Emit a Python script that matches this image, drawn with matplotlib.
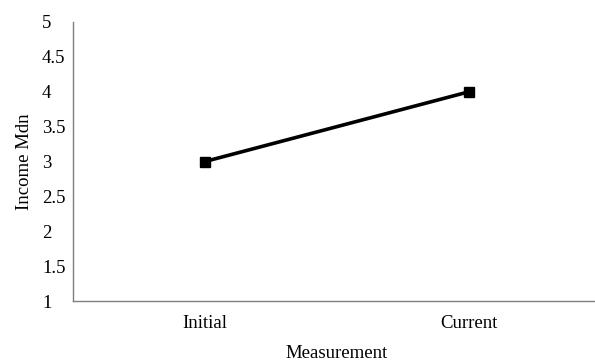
import matplotlib
matplotlib.use("Agg")
import matplotlib.pyplot as plt

categories = ["Initial", "Current"]
income_mdn = [3, 4]
yticks = [1, 1.5, 2, 2.5, 3, 3.5, 4, 4.5, 5]
ytick_labels = ["1", "1.5", "2", "2.5", "3", "3.5", "4", "4.5", "5"]

plt.rcParams['font.family'] = ['Liberation Serif', 'DejaVu Serif']
FS = 13.5

fig = plt.figure(figsize=(5.95, 3.62), dpi=100)
ax = fig.add_axes([73/595, 61/362, 528/595, 279/362])
x = list(range(len(categories)))
ax.plot(x, income_mdn, color='black', lw=2.6, marker='s', markersize=7, clip_on=False)
ax.set_xlim(-0.5, 1.5)
ax.set_ylim(1, 5)
ax.set_xticks(x)
ax.set_xticklabels(categories)
ax.set_yticks(yticks)
ax.set_yticklabels(ytick_labels)
ax.tick_params(axis='both', length=0, labelsize=FS, colors='black')
ax.tick_params(axis='y', pad=31 * 72 / 100)
for lbl in ax.get_yticklabels():
    lbl.set_horizontalalignment('left')
ax.tick_params(axis='x', pad=10)
for s in ['top', 'right']:
    ax.spines[s].set_visible(False)
for s in ['left', 'bottom']:
    ax.spines[s].set_color('#7f7f7f')
    ax.spines[s].set_linewidth(1.0)
ax.set_ylabel("Income Mdn", fontsize=FS, labelpad=6.5)
ax.set_xlabel("Measurement", fontsize=FS, labelpad=9.5)
fig.savefig("out.png", dpi=100)
